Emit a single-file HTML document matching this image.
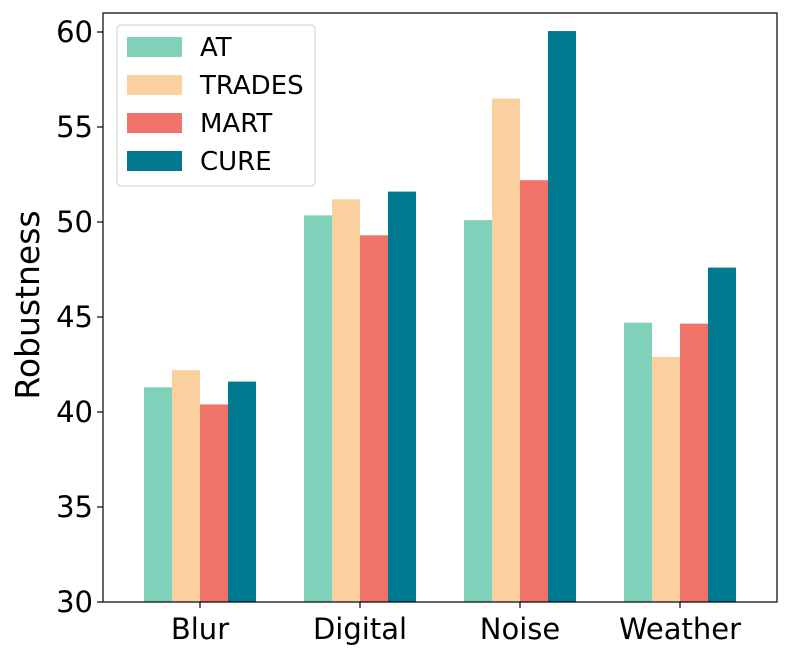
<!DOCTYPE html>
<html><head><meta charset="utf-8"><style>
html,body{margin:0;padding:0;background:#fff;}
svg{display:block;font-family:"DejaVu Sans","Liberation Sans",sans-serif;}
</style></head><body>
<svg id="chart" width="790" height="657" viewBox="0 0 790 657"></svg>
<script>
const categories = ["Blur","Digital","Noise","Weather"];
const seriesNames = ["AT","TRADES","MART","CURE"];
const atValues = [41.3, 50.35, 50.1, 44.7];
const tradesValues = [42.2, 51.2, 56.5, 42.9];
const martValues = [40.4, 49.3, 52.2, 44.65];
const cureValues = [41.6, 51.6, 60.05, 47.6];
const yTicks = [30,35,40,45,50,55,60];

const colors = ["#7fd1b9","#fad09f","#f07369","#007991"];
const allSeries = [atValues, tradesValues, martValues, cureValues];
const NS = "http://www.w3.org/2000/svg";
const svg = document.getElementById("chart");
const L=103, R=777, T=13, B=602;
const yMin=30, pxPerUnit=19;
function y(v){ return B - (v - yMin)*pxPerUnit; }
function xCenter(i){ return 200 + 160*i; }
const barW = 28;
function mk(tag, attrs){ const e=document.createElementNS(NS,tag); for(const k in attrs) e.setAttribute(k,attrs[k]); svg.appendChild(e); return e; }

allSeries.forEach((vals, s) => {
  vals.forEach((v, i) => {
    const x0 = xCenter(i) - 2*barW + s*barW;
    const r = mk("rect",{x:x0,y:y(v),width:barW,height:B-y(v),fill:colors[s]});
    
    
  });
});

const frame = mk("rect",{x:L,y:T,width:R-L,height:B-T,fill:"none",stroke:"#000","stroke-width":1.2});



yTicks.forEach(t => {
  const ln = mk("line",{x1:L-6,x2:L,y1:y(t),y2:y(t),stroke:"#000","stroke-width":1.2});
  
  
  const tx = mk("text",{x:L-10,y:y(t)+10,"text-anchor":"end","font-size":29,fill:"#000"});
  tx.textContent = t;
  
  
});
categories.forEach((c, i) => {
  const ln = mk("line",{x1:xCenter(i),x2:xCenter(i),y1:B,y2:B+6,stroke:"#000","stroke-width":1.2});
  
  
  const tx = mk("text",{x:xCenter(i),y:B+37,"text-anchor":"middle","font-size":29,fill:"#000"});
  tx.textContent = c;
  
  
});
const yl = mk("text",{x:0,y:0,transform:"translate(39,305) rotate(-90)","text-anchor":"middle","font-size":33,fill:"#000"});
yl.textContent = "Robustness";



const lg = mk("rect",{x:117,y:25,width:198,height:161,rx:4,fill:"#fff",stroke:"#ccc","stroke-width":1});


seriesNames.forEach((n, s) => {
  const cy = 47 + s*38;
  const p = mk("rect",{x:127,y:cy-10,width:55,height:20,fill:colors[s]});
  
  
  const t = mk("text",{x:200,y:cy+9,"font-size":26,fill:"#000"});
  t.textContent = n;
  
  
});
</script>
</body></html>
